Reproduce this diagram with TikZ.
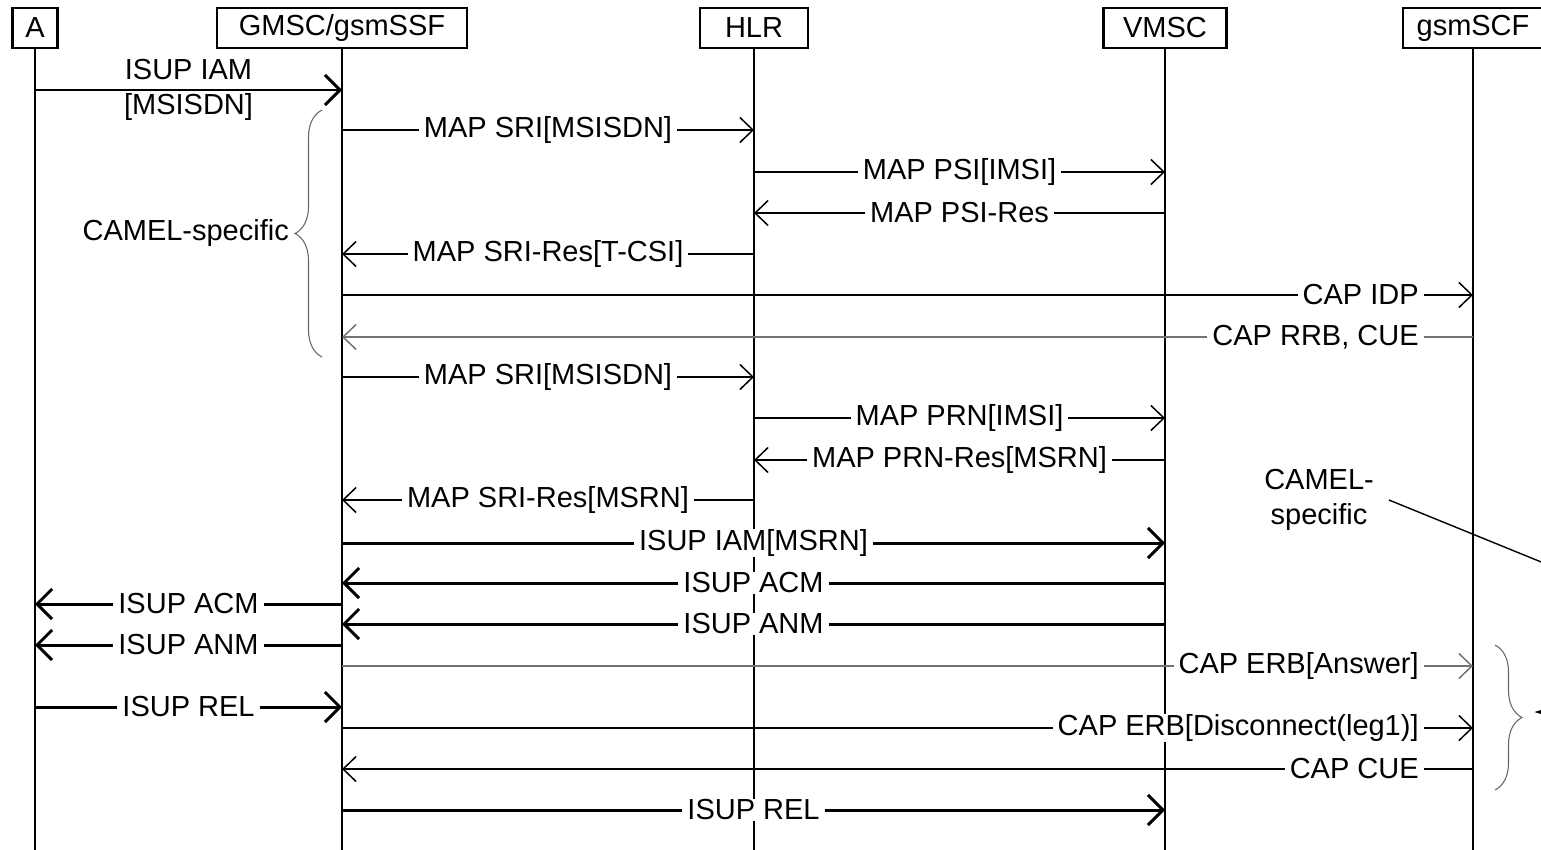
\documentclass[tikz,border=0pt]{standalone}
\usepackage{fontspec}
\setmainfont{Liberation Sans}
\usepackage{tikz}
\usetikzlibrary{
  arrows.meta,
  positioning,
  decorations.pathreplacing
}

\begin{document}
\begin{tikzpicture}[
  x=0.02cm, y=-0.02cm,
  font=\fontsize{16.5}{19.5}\selectfont,
  head/.style={draw, line width=1.5pt, minimum height=0.8cm, inner sep=0pt},
  life/.style={line width=1.6pt},
  sig/.style={line width=0.85pt, -{Straight Barb[length=2.6mm,width=5mm]}},
  isup/.style={line width=1.7pt, -{Straight Barb[length=3mm,width=6mm]}},
  faint/.style={draw=black!55},
  lbl/.style={fill=white, inner xsep=0.1cm, inner ysep=0.5pt},
  grp/.style={decorate, decoration={brace, amplitude=0.54cm}, line width=0.6pt, black!60},
  note/.style={line width=0.8pt, -{Latex[length=2.5mm]}}
]
  \useasboundingbox (0,0) rectangle (1541,849);
  \clip (0,0) rectangle (1541,849);

  \node[head, minimum width=0.9cm] (a) at (35,28) {A};
  \node[head, minimum width=5cm] (gmsc) at (342,28) {GMSC/gsmSSF};
  \node[head, minimum width=2.16cm] (hlr) at (754,28) {HLR};
  \node[head, minimum width=2.46cm] (vmsc) at (1165,28) {VMSC};
  \node[head, minimum width=2.8cm] (scf) at (1473,28) {gsmSCF};
  \coordinate (bot) at (0,852);

  \draw[life] (a.south) -- (a.south |- bot);
  \draw[life] (gmsc.south) -- (gmsc.south |- bot);
  \draw[life] (hlr.south) -- (hlr.south |- bot);
  \draw[life] (vmsc.south) -- (vmsc.south |- bot);
  \draw[life] (scf.south) -- (scf.south |- bot);

  \draw[isup] (0,90 -| a) -- node[align=center] {ISUP IAM\\{[MSISDN]}} (0,90 -| gmsc);
  \draw[sig] (0,130 -| gmsc) -- node[lbl] {MAP SRI[MSISDN]} (0,130 -| hlr);
  \draw[sig] (0,172 -| hlr) -- node[lbl] {MAP PSI[IMSI]} (0,172 -| vmsc);
  \draw[sig] (0,213 -| vmsc) -- node[lbl] {MAP PSI-Res} (0,213 -| hlr);
  \draw[sig] (0,254 -| hlr) -- node[lbl] {MAP SRI-Res[T-CSI]} (0,254 -| gmsc);
  \draw[sig] (0,295 -| gmsc) -- node[lbl, pos=0.957, anchor=east] {CAP IDP} (0,295 -| scf);
  \draw[sig, faint] (0,337 -| scf) -- node[lbl, pos=0.043, anchor=east] {CAP RRB, CUE} (0,337 -| gmsc);
  \draw[sig] (0,377 -| gmsc) -- node[lbl] {MAP SRI[MSISDN]} (0,377 -| hlr);
  \draw[sig] (0,418 -| hlr) -- node[lbl] {MAP PRN[IMSI]} (0,418 -| vmsc);
  \draw[sig] (0,460 -| vmsc) -- node[lbl] {MAP PRN-Res[MSRN]} (0,460 -| hlr);
  \draw[sig] (0,500 -| hlr) -- node[lbl] {MAP SRI-Res[MSRN]} (0,500 -| gmsc);
  \draw[isup] (0,543 -| gmsc) -- node[lbl] {ISUP IAM[MSRN]} (0,543 -| vmsc);
  \draw[isup] (0,583 -| vmsc) -- node[lbl] {ISUP ACM} (0,583 -| gmsc);
  \draw[isup] (0,604 -| gmsc) -- node[lbl] {ISUP ACM} (0,604 -| a);
  \draw[isup] (0,624 -| vmsc) -- node[lbl] {ISUP ANM} (0,624 -| gmsc);
  \draw[isup] (0,645 -| gmsc) -- node[lbl] {ISUP ANM} (0,645 -| a);
  \draw[sig, faint] (0,666 -| gmsc) -- node[lbl, pos=0.957, anchor=east] {CAP ERB[Answer]} (0,666 -| scf);
  \draw[isup] (0,707 -| a) -- node[lbl] {ISUP REL} (0,707 -| gmsc);
  \draw[sig] (0,728 -| gmsc) -- node[lbl, pos=0.957, anchor=east] {CAP ERB[Disconnect(leg1)]} (0,728 -| scf);
  \draw[sig] (0,769 -| scf) -- node[lbl, pos=0.043, anchor=east] {CAP CUE} (0,769 -| gmsc);
  \draw[isup] (0,810 -| gmsc) -- node[lbl] {ISUP REL} (0,810 -| vmsc);

  \draw[grp] (322,357) -- (322,110);
  \coordinate (tipL) at (295,233);
  \node[left=0pt of tipL] (camelL) {CAMEL-specific};

  \draw[grp] (1495,645) -- (1495,790);
  \coordinate (tipR) at (1534,712);
  \node[align=center] (camelR) at (1319,500) {CAMEL-\\specific};
  \draw[note] ([xshift=0.18cm]camelR.east) -- (1610,590) |- (tipR);
\end{tikzpicture}
\end{document}
